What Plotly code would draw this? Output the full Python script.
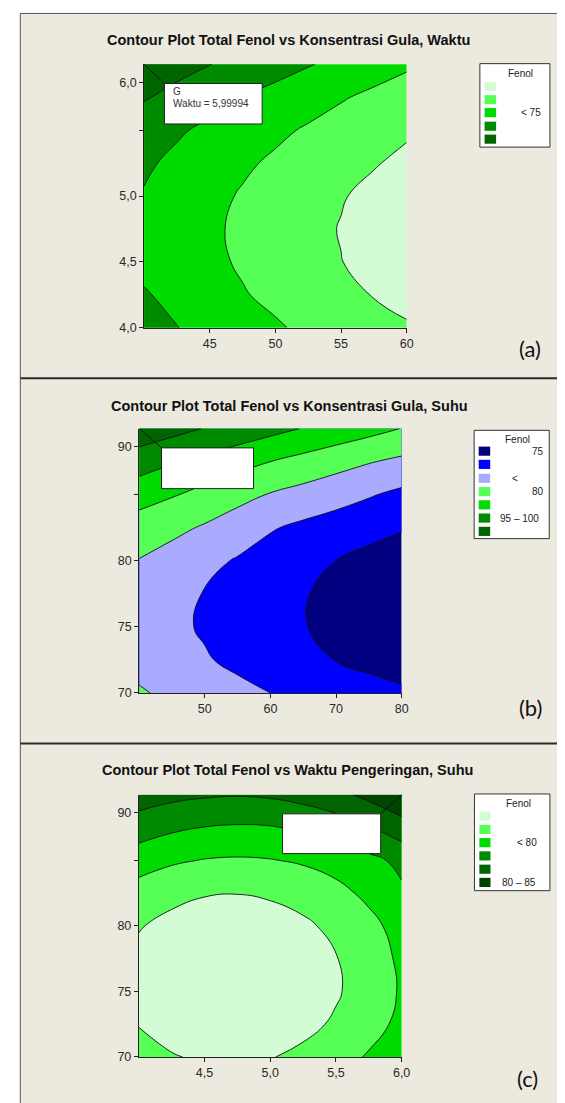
import plotly.graph_objects as go

W, H = 565, 1103

# ---------------- data ----------------
# (a) Total Fenol vs Konsentrasi Gula (x) and Waktu (y)
a_x = [40, 42.5, 45, 47.5, 50, 52.5, 55, 57.5, 60]
a_y = [4.0, 4.25, 4.5, 4.75, 5.0, 5.25, 5.5, 5.75, 6.0]
a_z = [
    [86.8, 85.1, 83.6, 82.0, 80.5, 79.1, 77.8, 76.6, 75.5],
    [85.4, 83.7, 82.0, 80.3, 79.0, 77.6, 76.2, 74.8, 73.5],
    [83.8, 82.3, 80.9, 79.5, 78.0, 76.6, 75.1, 73.6, 72.1],
    [83.6, 82.2, 80.7, 79.2, 77.7, 76.3, 74.8, 73.3, 71.8],
    [84.7, 83.0, 81.2, 79.6, 78.2, 76.7, 75.3, 73.9, 72.5],
    [85.7, 84.0, 82.3, 80.7, 79.3, 77.9, 76.6, 75.3, 74.0],
    [87.3, 85.6, 84.0, 82.5, 80.9, 79.5, 78.1, 76.8, 75.6],
    [90.4, 88.6, 86.8, 85.0, 83.4, 81.9, 80.4, 79.0, 77.7],
    [93.3, 91.6, 90.1, 88.5, 86.9, 85.3, 83.8, 82.2, 80.7],
]
a_levels = (75, 90, 5)
a_colors = ["#d4fcd4", "#55ff55", "#00dc00", "#008a00", "#006400"]
a_legend_labels = ["", "", "< 75", "", ""]
a_xtickvals = [45, 50, 55, 60]
a_xticktext = ["45", "50", "55", "60"]
a_ytickvals = [4.0, 4.5, 5.0, 5.5, 5.862]
a_yticktext = ["4,0", "4,5", "5,0", "", "6,0"]
a_flag = ["G", "Waktu = 5,99994"]

# (b) Total Fenol vs Konsentrasi Gula (x) and Suhu (y)
b_x = [40, 45, 50, 55, 60, 65, 70, 75, 80]
b_y = [70, 72.5, 75, 77.5, 80, 82.5, 85, 87.5, 90]
b_z = [
    [85.5, 84.0, 82.5, 81.2, 80.0, 78.8, 77.7, 76.7, 75.8],
    [83.4, 81.9, 80.4, 79.0, 77.6, 76.2, 74.9, 73.8, 72.8],
    [82.5, 81.0, 79.5, 78.0, 76.6, 75.2, 73.9, 72.7, 71.6],
    [82.7, 81.3, 79.8, 78.3, 76.8, 75.3, 73.9, 72.6, 71.4],
    [84.8, 83.1, 81.3, 79.6, 78.0, 76.5, 75.0, 73.6, 72.3],
    [87.7, 86.2, 84.5, 82.6, 80.4, 79.0, 77.8, 76.6, 75.4],
    [92.0, 90.4, 88.4, 86.5, 84.7, 83.3, 81.9, 80.4, 78.9],
    [97.4, 95.4, 93.6, 91.8, 90.0, 88.4, 86.8, 85.3, 84.0],
    [103.2, 101.6, 99.8, 98.2, 96.5, 94.8, 93.2, 91.6, 89.9],
]
b_levels = (75, 100, 5)
b_colors = ["#000080", "#0000ff", "#aaaaff", "#55ff55", "#00dc00", "#008a00", "#006400"]
b_legend_labels = ["75", "", "<", "80", "", "95 \u2013 100", ""]
b_xtickvals = [50, 60, 70, 80]
b_xticktext = ["50", "60", "70", "80"]
b_ytickvals = [70, 75, 80, 85, 88.67]
b_yticktext = ["70", "75", "80", "", "90"]

# (c) Total Fenol vs Waktu Pengeringan (x) and Suhu (y)
c_x = [4.0, 4.25, 4.5, 4.75, 5.0, 5.25, 5.5, 5.75, 6.0]
c_y = [70, 72.5, 75, 77.5, 80, 82.5, 85, 87.5, 90]
c_z = [
    [61.9, 60.3, 59.4, 59.3, 59.8, 61.0, 62.9, 65.5, 68.8],
    [59.8, 58.2, 57.4, 57.2, 57.6, 58.8, 60.6, 63.1, 66.2],
    [58.7, 57.0, 56.1, 55.9, 56.4, 57.6, 59.5, 62.2, 65.5],
    [58.9, 57.3, 56.3, 56.1, 56.6, 57.9, 59.8, 62.5, 65.9],
    [60.3, 58.7, 57.8, 57.5, 58.0, 59.2, 61.1, 63.6, 66.9],
    [62.9, 61.3, 60.3, 60.1, 60.6, 61.7, 63.6, 66.1, 69.3],
    [67.3, 65.7, 64.8, 64.5, 64.8, 65.6, 66.9, 68.8, 71.1],
    [72.5, 70.9, 69.9, 69.5, 69.7, 70.7, 72.3, 74.7, 78.0],
    [77.5, 76.3, 75.6, 75.3, 75.7, 76.8, 78.6, 81.3, 84.0],
]
c_levels = (60, 80, 5)
c_colors = ["#d4fcd4", "#55ff55", "#00dc00", "#008a00", "#006400", "#004400"]
c_legend_labels = ["", "", "< 80", "", "", "80 \u2013 85"]
c_xtickvals = [4.5, 5.0, 5.5, 6.0]
c_xticktext = ["4,5", "5,0", "5,5", "6,0"]
c_ytickvals = [70, 75, 80, 85, 88.61]
c_yticktext = ["70", "75", "80", "", "90"]

titles = [
    "Contour Plot Total Fenol vs Konsentrasi Gula, Waktu",
    "Contour Plot Total Fenol vs Konsentrasi Gula, Suhu",
    "Contour Plot Total Fenol vs Waktu Pengeringan, Suhu",
]
panel_tags = ["(a)", "(b)", "(c)"]


# ---------------- helpers ----------------
def px(x):
    return x / W


def py(y):
    return 1 - y / H


def step_scale(colors):
    n = len(colors) - 1
    return [[i / n, c] for i, c in enumerate(colors)]


BG = "#ece9df"
FONT = "Liberation Sans"

fig = go.Figure()

panels = [
    dict(x=a_x, y=a_y, z=a_z, lv=a_levels, colors=a_colors, xr=[40, 60], yr=[4.0, 6.0],
         xtv=a_xtickvals, xtt=a_xticktext, ytv=a_ytickvals, ytt=a_yticktext,
         dom_x=(138.3, 405.1), dom_y=(56.7, 321.7)),
    dict(x=b_x, y=b_y, z=b_z, lv=b_levels, colors=b_colors, xr=[40, 80], yr=[70, 90],
         xtv=b_xtickvals, xtt=b_xticktext, ytv=b_ytickvals, ytt=b_yticktext,
         dom_x=(133.3, 400.0), dom_y=(423.3, 689.3)),
    dict(x=c_x, y=c_y, z=c_z, lv=c_levels, colors=c_colors, xr=[4.0, 6.0], yr=[70, 90],
         xtv=c_xtickvals, xtt=c_xticktext, ytv=c_ytickvals, ytt=c_yticktext,
         dom_x=(132.9, 400.0), dom_y=(791.7, 1055.7)),
]

layout_axes = {}
for i, p in enumerate(panels):
    sfx = "" if i == 0 else str(i + 1)
    fig.add_trace(go.Contour(
        x=p["x"], y=p["y"], z=p["z"],
        xaxis="x" + sfx, yaxis="y" + sfx,
        contours=dict(start=p["lv"][0], end=p["lv"][1], size=p["lv"][2], coloring="fill"),
        colorscale=step_scale(p["colors"]),
        line=dict(color="#111111", width=0.9, smoothing=1.3),
        showscale=False, hoverinfo="skip",
    ))
    axis_common = dict(showgrid=False, zeroline=False, showline=True, linecolor="#222222",
                       linewidth=1, ticks="outside", ticklen=4, tickcolor="#222222",
                       tickfont=dict(family=FONT, size=12.5, color="#2a2a2a"))
    layout_axes["xaxis" + sfx] = dict(
        domain=[px(p["dom_x"][0]), px(p["dom_x"][1])], range=p["xr"],
        anchor="y" + sfx, tickmode="array", tickvals=p["xtv"], ticktext=p["xtt"],
        **axis_common)
    layout_axes["yaxis" + sfx] = dict(
        domain=[py(p["dom_y"][1]), py(p["dom_y"][0])], range=p["yr"],
        anchor="x" + sfx, tickmode="array", tickvals=p["ytv"], ticktext=p["ytt"],
        **axis_common)

shapes = []
annotations = []

# panel background and frames
shapes.append(dict(type="rect", xref="paper", yref="paper", x0=px(12.5), x1=px(562.5),
                   y0=py(1110), y1=py(5.5), fillcolor=BG, line=dict(width=0), layer="below"))
for (x0, y0, x1, y1, wdt, col) in [
    (12.5, 5.5, 562.5, 5.5, 1, "#555555"),
    (12.5, 5.5, 12.5, 1110, 1, "#555555"),
    (562.5, 5.5, 562.5, 1110, 1, "#555555"),
    (12.5, 372.7, 562.5, 372.7, 2, "#2a2a2a"),
    (12.5, 740.3, 562.5, 740.3, 2, "#2a2a2a"),
]:
    shapes.append(dict(type="line", xref="paper", yref="paper", x0=px(x0), x1=px(x1),
                       y0=py(y0), y1=py(y1), line=dict(color=col, width=wdt)))

# titles and panel tags
title_pos = [(285.5, 32.3), (286.1, 400.7), (284.3, 767.3)]
tag_pos = [(530.7, 342.3), (530.7, 704.3), (528.3, 1077.5)]
for t, (tx, ty) in zip(titles, title_pos):
    annotations.append(dict(text="<b>" + t + "</b>", xref="paper", yref="paper",
                            x=px(tx), y=py(ty), xanchor="center", yanchor="middle",
                            showarrow=False, font=dict(family=FONT, size=14.5, color="#111111")))
for t, (tx, ty) in zip(panel_tags, tag_pos):
    annotations.append(dict(text=t, xref="paper", yref="paper", x=px(tx), y=py(ty),
                            xanchor="center", yanchor="middle", showarrow=False,
                            font=dict(family="Lato", size=22, color="#111111")))

# legends
legends = [
    dict(box=(479.5, 56.0, 550.7, 140.0), title_y=65.7, rows=[79, 92.3, 105.3, 119, 132],
         sw=(484.3, 496.0), colors=a_colors, labels=a_legend_labels,
         label_x=[531, 531, 531, 531, 531]),
    dict(box=(473.7, 425.0, 550.0, 534.0), title_y=434.0,
         rows=[446, 459.3, 473.3, 486.7, 500, 513.3, 526.7],
         sw=(478.3, 490.0), colors=b_colors, labels=b_legend_labels,
         label_x=[538.3, 538, 515, 538.3, 520, 520, 520]),
    dict(box=(474.0, 791.0, 550.7, 888.3), title_y=800.7,
         rows=[813.3, 826.7, 840, 853.3, 866.7, 880],
         sw=(479.0, 490.3), colors=c_colors, labels=c_legend_labels,
         label_x=[527.7, 527.7, 527.7, 527.7, 527.7, 519.3]),
]
for lg in legends:
    bx0, by0, bx1, by1 = lg["box"]
    shapes.append(dict(type="rect", xref="paper", yref="paper", x0=px(bx0), x1=px(bx1),
                       y0=py(by1), y1=py(by0), fillcolor="white",
                       line=dict(color="#333333", width=1)))
    annotations.append(dict(text="Fenol", xref="paper", yref="paper",
                            x=px((bx0 + bx1) / 2 + 6), y=py(lg["title_y"]),
                            xanchor="center", yanchor="middle", showarrow=False,
                            font=dict(family=FONT, size=10, color="#222222")))
    for ry, col, lab, lx in zip(lg["rows"], lg["colors"], lg["labels"], lg["label_x"]):
        shapes.append(dict(type="rect", xref="paper", yref="paper", x0=px(lg["sw"][0]),
                           x1=px(lg["sw"][1]), y0=py(ry + 4.6), y1=py(ry - 4.6),
                           fillcolor=col, line=dict(width=0)))
        if lab:
            annotations.append(dict(text=lab, xref="paper", yref="paper", x=px(lx), y=py(ry),
                                    xanchor="center", yanchor="middle", showarrow=False,
                                    font=dict(family=FONT, size=10, color="#222222")))

# flag boxes with leader lines
flags = [
    dict(box=(159.0, 76.0, 258.3, 116.7), lead=(138.3, 56.7, 159.0, 76.0)),
    dict(box=(156.0, 442.7, 249.5, 483.7), lead=(134.5, 424.0, 156.0, 442.7)),
    dict(box=(279.0, 811.0, 378.7, 851.0), lead=(400.0, 791.7, 378.7, 811.0)),
]
for f in flags:
    lx0, ly0, lx1, ly1 = f["lead"]
    shapes.append(dict(type="line", xref="paper", yref="paper", x0=px(lx0), x1=px(lx1),
                       y0=py(ly0), y1=py(ly1), line=dict(color="#111111", width=1)))
    bx0, by0, bx1, by1 = f["box"]
    shapes.append(dict(type="rect", xref="paper", yref="paper", x0=px(bx0), x1=px(bx1),
                       y0=py(by1), y1=py(by0), fillcolor="white",
                       line=dict(color="#222222", width=1)))

annotations.append(dict(text=a_flag[0], xref="paper", yref="paper", x=px(165.5), y=py(84.3),
                        xanchor="left", yanchor="middle", showarrow=False,
                        font=dict(family=FONT, size=10, color="#333333")))
annotations.append(dict(text=a_flag[1], xref="paper", yref="paper", x=px(165.5), y=py(96.5),
                        xanchor="left", yanchor="middle", showarrow=False,
                        font=dict(family=FONT, size=10, color="#333333")))

fig.update_layout(
    width=W, height=H, autosize=False,
    margin=dict(l=0, r=0, t=0, b=0),
    paper_bgcolor="white", plot_bgcolor="rgba(0,0,0,0)",
    showlegend=False,
    shapes=shapes, annotations=annotations,
    **layout_axes,
)

fig.write_html("out.html")
